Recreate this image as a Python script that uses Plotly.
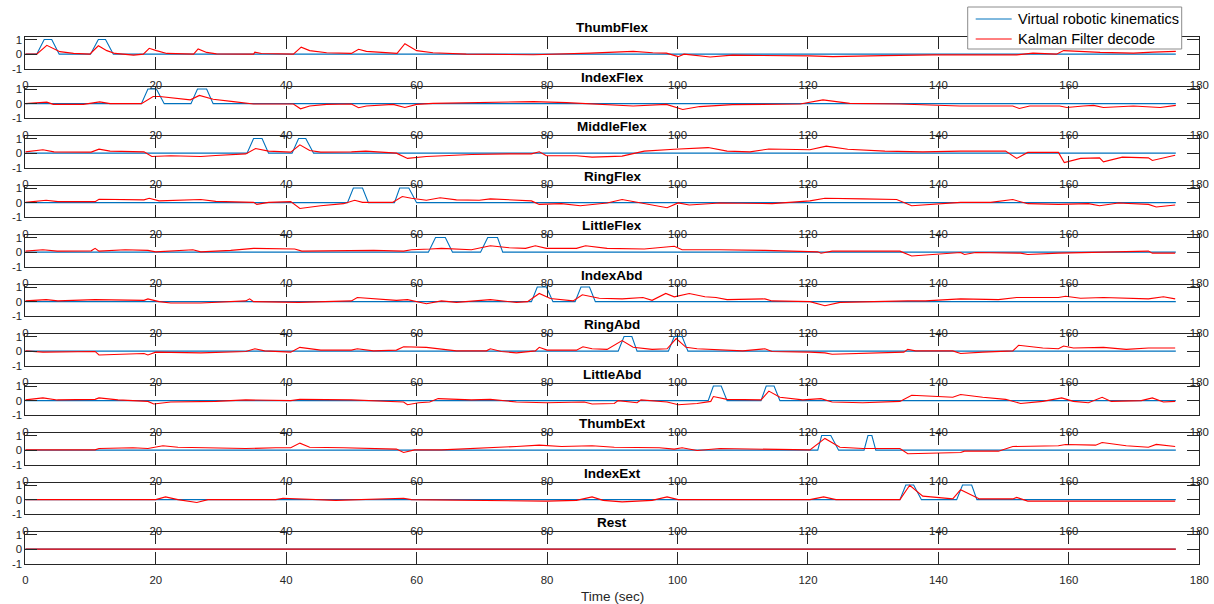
import plotly.graph_objects as go

FONT = "Liberation Sans, Arial, Helvetica, sans-serif"
AX = "#262626"
BLUE = "#0072BD"
RED = "#FF0000"

CHANNELS = ["ThumbFlex", "IndexFlex", "MiddleFlex", "RingFlex", "LittleFlex",
            "IndexAbd", "RingAbd", "LittleAbd", "ThumbExt", "IndexExt", "Rest"]
SERIES_NAMES = ["Virtual robotic kinematics", "Kalman Filter decode"]
T_END = 176.4
X_TICKS = [0, 20, 40, 60, 80, 100, 120, 140, 160, 180]
Y_TICKS = [-1, 0, 1]
Y_TICKTEXT = ["-1", "0", "1"]

# Virtual robotic kinematics: bumps (rise start, top start, top end, fall end), height 1
KIN_BUMPS = {
    "ThumbFlex": [(1.75, 2.9, 4.05, 5.2), (10.0, 11.2, 12.3, 13.5)],
    "IndexFlex": [(17.8, 18.8, 20.1, 21.3), (25.4, 26.4, 27.8, 28.8)],
    "MiddleFlex": [(34.0, 35.0, 36.3, 37.3), (40.9, 41.9, 43.0, 44.2)],
    "RingFlex": [(49.4, 50.3, 51.7, 52.6), (56.6, 57.4, 58.8, 60.0)],
    "LittleFlex": [(61.8, 62.9, 64.4, 65.5), (69.8, 70.9, 72.4, 73.2)],
    "IndexAbd": [(77.6, 78.5, 79.9, 80.9), (84.3, 85.2, 86.5, 87.4)],
    "RingAbd": [(90.9, 91.8, 93.0, 93.8), (98.6, 99.5, 100.7, 101.6)],
    "LittleAbd": [(104.7, 105.5, 106.7, 107.6), (112.8, 113.6, 114.8, 115.7)],
    "ThumbExt": [(121.5, 122.1, 123.5, 124.7), (128.6, 129.2, 129.8, 130.4)],
    "IndexExt": [(134.1, 135.0, 136.2, 137.4), (142.8, 143.7, 145.1, 145.9)],
    "Rest": [],
}

# Kalman Filter decode: (time, value) pairs
THUMBFLEX_DEC = [(0, 0), (1.75, 0), (3.3, 0.6), (4.3, 0.36), (5.3, 0.17), (7.4, 0.05), (9.9, 0), (11.2, 0.57),
                 (12.5, 0.24), (13.75, 0.05), (16.6, -0.07), (18.1, 0), (19.0, 0.4), (20.1, 0.24), (21.7, 0.05),
                 (25.8, 0), (26.5, 0.36), (27.8, 0.12), (29.3, 0.02), (35, 0), (35.2, 0.14), (36.2, 0.04),
                 (41.1, 0), (42.3, 0.48), (43.6, 0.24), (46.2, 0.1), (50, 0.05), (51.1, 0.33), (52.3, 0.19),
                 (57, 0.05), (58.2, 0.71), (60, 0.24), (62.5, 0.1), (67.6, 0.0), (77.9, -0.04), (86.6, 0.07),
                 (93.2, 0.19), (96.2, 0.1), (98.3, 0.07), (100.1, -0.17), (101, 0), (105, -0.19), (108.4, -0.07),
                 (120.3, -0.12), (123.8, -0.17), (131.5, -0.1), (139.2, -0.05), (152, -0.05), (154.5, 0.07),
                 (158.1, 0), (159.2, 0.24), (164.8, 0.12), (169.9, 0.07), (172.9, 0.14), (176.4, 0.19)]
INDEXFLEX_DEC = [(0, 0), (2.5, 0.1), (3.3, 0.1), (4.3, -0.05), (8.9, -0.05), (11.4, 0.12), (13, 0), (17.8, 0),
                 (19.6, 0.49), (20.6, 0.49), (25.3, 0.26), (26.7, 0.56), (28.8, 0.3), (31.9, 0.14), (35, -0.02),
                 (41.1, -0.02), (42.2, -0.35), (43.6, -0.16), (46.2, -0.05), (50, -0.02), (51.1, -0.28),
                 (52.3, -0.16), (56.4, -0.05), (58.2, -0.26), (60, -0.05), (62.5, 0.02), (77.9, 0.14), (83, 0.07),
                 (93.2, -0.16), (98.3, -0.05), (100.8, -0.4), (103.4, -0.2), (108.4, -0.07), (118.8, -0.02),
                 (122.3, 0.26), (126.4, 0.02), (134, -0.02), (143.3, -0.16), (151.4, -0.16), (152.4, -0.33),
                 (154, -0.16), (158.6, -0.16), (159.7, -0.26), (162.2, -0.16), (163.8, -0.12), (165.3, -0.26),
                 (169.9, -0.16), (174, -0.26), (176.4, -0.12)]
MIDDLEFLEX_DEC = [(0, 0.09), (2.7, 0.23), (4.4, 0.09), (10.1, 0.07), (11.3, 0.27), (13, 0.14), (18.2, 0.09),
                  (19.4, -0.23), (22.3, -0.18), (26.9, -0.23), (29.2, -0.16), (33.8, -0.05), (35.3, 0.32),
                  (37.3, 0.14), (40.7, 0.07), (42.1, 0.57), (43.6, 0.18), (45.3, 0.07), (50, 0.09), (52.2, 0.14),
                  (56.9, 0), (58.6, -0.36), (61.5, -0.23), (68.4, -0.09), (74.2, -0.05), (77.6, -0.05),
                  (78.8, 0.09), (79.9, -0.18), (84.5, -0.18), (86.9, -0.27), (91.5, -0.2), (94.9, 0.14),
                  (99.5, 0.27), (104.7, 0.38), (107.6, 0.14), (111.1, 0.09), (114, 0.28), (120.3, 0.23),
                  (122.8, 0.48), (126.1, 0.27), (131.8, 0.14), (137.6, 0.09), (143.4, 0.14), (150.3, 0.14),
                  (152, -0.36), (153.7, 0.05), (158.4, 0.05), (159.3, -0.64), (161.8, -0.36), (164.7, -0.32),
                  (165.3, -0.59), (168.2, -0.27), (172.2, -0.32), (172.8, -0.5), (176.3, -0.14)]
RINGFLEX_DEC = [(0, 0.02), (3.2, 0.16), (5, 0.07), (10.7, 0.07), (11.3, 0.23), (18.2, 0.19), (19, 0.3),
                (20.5, 0.12), (26.9, 0.21), (29.2, 0.09), (35, 0.02), (35.5, -0.12), (37.3, 0.02), (40.7, 0.07),
                (42.1, -0.4), (45.3, -0.21), (48.8, -0.07), (50.5, 0.16), (51.7, 0.02), (56.3, 0.02),
                (57.8, 0.42), (59.2, 0.3), (61.5, 0.16), (63.6, 0.33), (66.1, 0.19), (69.6, 0.16), (71.3, 0.26),
                (75.3, 0.16), (77.6, 0.12), (78.8, -0.12), (82.2, -0.07), (85.1, -0.21), (89.2, -0.02),
                (91.5, 0.21), (94.9, -0.07), (98.4, -0.35), (100.1, -0.02), (101.8, -0.16), (106.5, -0.02),
                (114.5, -0.07), (120.3, 0.12), (122.6, 0.3), (128.4, 0.26), (133.6, 0.21), (135.9, -0.21),
                (139.9, -0.07), (143.4, 0.02), (148, 0.02), (151.4, 0.21), (153.7, -0.07), (158.4, -0.12),
                (163, -0.07), (164.7, -0.21), (167.6, -0.02), (172.2, -0.12), (173.4, -0.3), (176.3, -0.16)]
LITTLEFLEX_DEC = [(0, 0.07), (2.7, 0.16), (4.9, 0.07), (10.1, 0.09), (10.7, 0.26), (11.3, 0.07), (15.3, 0.16),
                  (18.8, 0.12), (20, 0.02), (25.7, 0.16), (26.9, 0.02), (31.5, 0.12), (35, 0.26), (41.3, 0.21),
                  (42.4, 0.07), (50, 0.09), (53.4, 0.12), (58, 0.07), (59.2, 0.16), (62.1, 0.21), (63.8, 0.26),
                  (68.4, 0.16), (71.3, 0.44), (74.2, 0.3), (76.7, 0.26), (78.2, 0.44), (79.9, 0.26), (84.5, 0.26),
                  (85.9, 0.44), (89.2, 0.26), (94.9, 0.21), (99.5, 0.4), (100.7, 0.16), (106.5, 0.16),
                  (113.4, 0.12), (121.5, 0.02), (122, -0.07), (123.7, 0.07), (134.1, 0.07), (135.9, -0.26),
                  (139.9, -0.12), (143.4, -0.02), (144, -0.16), (145.7, -0.02), (152.6, -0.07), (153.7, -0.16),
                  (158.4, -0.07), (165.3, 0.02), (172.2, 0.07), (172.8, -0.07), (176.3, -0.07)]
INDEXABD_DEC = [(0, 0.05), (3.2, 0.14), (5, 0.05), (10.7, 0.14), (18.2, 0.09), (18.8, 0.19), (20.5, 0),
                (22.3, -0.09), (26.9, -0.09), (33.8, 0.05), (34.4, 0.19), (35, 0), (41.9, -0.05), (50, 0.05),
                (50.9, 0.28), (56.9, 0.09), (58.6, 0.14), (61.5, -0.14), (63.8, 0.05), (66.1, -0.05),
                (71.3, 0.14), (75.3, -0.05), (77, 0), (78.8, 0.56), (80.5, 0.21), (84, 0.05), (85.4, 0.47),
                (88, 0.23), (91.5, 0.19), (94.7, 0.28), (96.1, 0.09), (98.2, 0.56), (99.5, 0.33), (101.8, 0.56),
                (104.2, 0.33), (105.9, 0.28), (107.6, 0.14), (113.4, 0.19), (114.5, 0.05), (120.3, 0),
                (122.6, -0.28), (124.9, -0.05), (135.3, 0.05), (138, 0.05), (143.4, 0.19), (149.2, 0.14),
                (152, 0.28), (158.4, 0.28), (159.5, 0.37), (161.8, 0.23), (165.3, 0.28), (169.9, 0.23),
                (172.2, 0.19), (174.5, 0.33), (176.3, 0.19)]
RINGABD_DEC = [(0, 0.02), (2.7, -0.07), (10.7, -0.02), (11.3, -0.26), (18.2, -0.16), (18.8, -0.26), (20, -0.07),
               (26.9, -0.12), (33.8, -0.02), (35.2, 0.16), (36.7, 0.02), (40.7, -0.07), (42.1, 0.26), (45.3, 0.07),
               (50, 0.07), (50.9, 0.16), (53.4, 0.02), (56.9, 0.07), (58, 0.3), (61.5, 0.26), (66.1, 0.02),
               (70.7, 0.02), (71.3, 0.16), (73, -0.02), (75.3, -0.12), (78.2, 0.02), (78.8, 0.26), (80, 0.07),
               (84.5, 0.07), (85.5, 0.3), (86.9, 0.16), (89.2, 0.12), (91.5, 0.72), (93.2, 0.26), (96.1, 0.12),
               (98.4, 0.16), (99.8, 0.86), (101.3, 0.26), (103, 0.16), (106.5, 0.07), (110, 0.02), (113.4, 0.16),
               (114.5, -0.02), (120.3, -0.07), (122.6, -0.12), (123.7, -0.21), (129.5, -0.16), (134.7, -0.07),
               (135.3, 0.12), (136.5, 0.02), (142.2, 0.02), (143.4, -0.16), (146.8, -0.07), (151.4, 0.02),
               (152.3, 0.4), (156, 0.21), (158.4, 0.16), (159.2, 0.35), (160.7, 0.21), (164.7, 0.21),
               (165.3, 0.26), (168.8, 0.12), (172.2, 0.21), (176.3, 0.21)]
LITTLEABD_DEC = [(0, 0.05), (2.7, 0.19), (4.9, 0.05), (10.7, 0.09), (11.3, 0.19), (14.2, 0.05), (18.8, -0.05),
                 (19.7, -0.23), (22.3, -0.09), (29.2, -0.05), (33.8, 0.05), (40.7, 0), (42.1, 0.09), (50, 0.05),
                 (58, -0.09), (58.6, -0.28), (60.3, -0.14), (62, -0.09), (63.3, 0.14), (68.4, 0.05), (71.3, 0.09),
                 (75.3, -0.09), (79.9, -0.14), (85.7, -0.09), (86.9, -0.23), (90.3, -0.19), (90.9, 0),
                 (93.8, -0.14), (94.4, 0.05), (98.4, -0.09), (100.1, -0.28), (103, -0.19), (105.1, -0.05),
                 (105.5, 0.28), (107.6, 0.09), (112.8, 0.05), (114, 0.65), (115.7, 0.23), (119.2, 0.05),
                 (122, 0.14), (123.7, -0.09), (128.4, -0.14), (134.1, -0.05), (135.9, 0.37), (139.9, 0.28),
                 (142.2, 0.23), (143.4, 0.42), (146.8, 0.23), (150.3, 0.09), (152.6, -0.19), (156, -0.05),
                 (158.9, 0.19), (160.7, -0.05), (163, -0.14), (165.1, 0.23), (166.5, -0.05), (171.1, 0),
                 (172.8, 0.19), (174.5, -0.09), (176.3, -0.05)]
THUMBEXT_DEC = [(0, 0.02), (10.7, 0.02), (11.3, 0.11), (16.5, 0.16), (18.8, 0.11), (21.1, 0.3), (23.4, 0.2),
                (29.2, 0.16), (33.8, 0.11), (38.4, 0.16), (40.7, 0.16), (42.1, 0.48), (43.6, 0.2), (48.8, 0.16),
                (56.9, 0.07), (58, -0.16), (59.7, 0.02), (63.8, 0.02), (68.4, 0.11), (73, 0.16), (75.3, 0.25),
                (78.8, 0.34), (82.2, 0.25), (86.9, 0.3), (90.3, 0.2), (97.2, 0.16), (99.5, 0.07), (100.7, 0.16),
                (103, -0.02), (106.5, 0.11), (114.5, 0.07), (120.3, 0.02), (122.6, 0.8), (124.9, 0.2),
                (128.4, 0.11), (134.1, 0.11), (135.3, -0.25), (139.9, -0.2), (143.4, -0.16), (144, -0.07),
                (149.2, -0.07), (151.4, 0.25), (158.4, 0.3), (159.5, 0.39), (164.1, 0.34), (165.1, 0.52),
                (168.8, 0.3), (172.2, 0.2), (173.4, 0.39), (176.3, 0.25)]
INDEXEXT_DEC = [(0, 0), (20, 0), (21.5, 0.19), (23.4, 0), (26.3, -0.19), (28, 0), (38.4, 0), (39.5, 0.1),
                (47.6, -0.05), (58, 0.1), (59.2, 0), (79.9, -0.1), (84.5, -0.05), (86.9, 0.19), (88.6, -0.05),
                (91.5, -0.15), (96.1, -0.05), (98.4, 0.19), (100.1, 0), (120.3, 0), (122.4, 0.19), (124.3, 0),
                (134.1, 0), (135.6, 0.98), (137.6, 0.24), (142.2, 0.05), (143.4, 0.68), (146.3, 0.05),
                (151.4, 0.05), (152, 0.15), (153.7, -0.1), (160.7, -0.1), (166.4, -0.15), (172.2, -0.1),
                (176.3, -0.1)]
REST_DEC = [(0, 0), (176.4, 0)]

DECODE = {
    "ThumbFlex": THUMBFLEX_DEC, "IndexFlex": INDEXFLEX_DEC, "MiddleFlex": MIDDLEFLEX_DEC,
    "RingFlex": RINGFLEX_DEC, "LittleFlex": LITTLEFLEX_DEC, "IndexAbd": INDEXABD_DEC,
    "RingAbd": RINGABD_DEC, "LittleAbd": LITTLEABD_DEC, "ThumbExt": THUMBEXT_DEC,
    "IndexExt": INDEXEXT_DEC, "Rest": REST_DEC,
}

# ---------------- layout geometry (pixels of the 1214x604 page) ----------------
W, H = 1214, 604
X_LEFT, X_RIGHT = 25.3, 1199.3
TOP0, PITCH, AX_H = 37.3, 49.5, 31.5


def px(x):
    return x / W


def py(y):
    return 1 - y / H


fig = go.Figure()
layout = dict(
    width=W, height=H, margin=dict(l=0, r=0, t=0, b=0, pad=0, autoexpand=False),
    paper_bgcolor="white", plot_bgcolor="white",
    font=dict(family=FONT, color=AX),
    showlegend=False,
)
annotations = []
shapes = []

for i, ch in enumerate(CHANNELS):
    k = i + 1
    top = TOP0 + PITCH * i
    bot = top + AX_H
    dom_y = [py(bot), py(top)]
    xa = "x" if k == 1 else f"x{k}"
    ya = "y" if k == 1 else f"y{k}"

    kt, kv = [0.0], [0.0]
    for (r, a, b, f) in KIN_BUMPS[ch]:
        kt += [r, a, b, f]
        kv += [0, 1, 1, 0]
    kt.append(T_END)
    kv.append(0.0)
    fig.add_trace(go.Scatter(x=kt, y=kv, mode="lines", line=dict(color=BLUE, width=1.1),
                             name=SERIES_NAMES[0], xaxis=xa, yaxis=ya, hoverinfo="skip"))
    dt = [p[0] for p in DECODE[ch]]
    dv = [p[1] for p in DECODE[ch]]
    fig.add_trace(go.Scatter(x=dt, y=dv, mode="lines", line=dict(color=RED, width=1.1),
                             name=SERIES_NAMES[1], xaxis=xa, yaxis=ya, hoverinfo="skip"))

    xkey = "xaxis" if k == 1 else f"xaxis{k}"
    ykey = "yaxis" if k == 1 else f"yaxis{k}"
    layout[xkey] = dict(domain=[px(X_LEFT), px(X_RIGHT)], range=[0, 180], tickvals=X_TICKS,
                        ticks="inside", ticklen=12, tickwidth=1, tickcolor=AX,
                        showline=True, linecolor=AX, linewidth=1, mirror="ticks",
                        showgrid=False, zeroline=False, anchor=ya, automargin=False,
                        ticklabelstandoff=6,
                        tickfont=dict(family=FONT, size=11.4, color=AX))
    layout[ykey] = dict(domain=dom_y, range=[-1, 1.15], tickvals=Y_TICKS, ticktext=Y_TICKTEXT,
                        ticks="inside", ticklen=12, tickwidth=1, tickcolor=AX,
                        showline=True, linecolor=AX, linewidth=1, mirror="ticks",
                        showgrid=False, zeroline=False, anchor=xa, automargin=False,
                        tickfont=dict(family=FONT, size=11.4, color=AX))
    annotations.append(dict(text=f"<b>{ch}</b>", x=px(612.3), y=dom_y[1], xref="paper", yref="paper",
                            xanchor="center", yanchor="bottom", yshift=0, showarrow=False,
                            font=dict(family=FONT, size=13.5, color="#000000")))

annotations.append(dict(text="Time (sec)", x=px(612.3), y=py(596.7), xref="paper", yref="paper",
                        xanchor="center", yanchor="middle", showarrow=False,
                        font=dict(family=FONT, size=13.5, color=AX)))

# legend box (MATLAB style) drawn on top of the first axes
LEG_L, LEG_R, LEG_T, LEG_B = 967.7, 1181.7, 7.0, 49.0
shapes.append(dict(type="rect", xref="paper", yref="paper", layer="above",
                   x0=px(LEG_L), x1=px(LEG_R), y0=py(LEG_B), y1=py(LEG_T),
                   fillcolor="white", line=dict(color="#8c8c8c", width=1)))
for j, (name, col) in enumerate(zip(SERIES_NAMES, [BLUE, RED])):
    yc = 19.0 + 20.0 * j
    shapes.append(dict(type="line", xref="paper", yref="paper", layer="above",
                       x0=px(975.7), x1=px(1011.7), y0=py(yc), y1=py(yc),
                       line=dict(color=col, width=1)))
    annotations.append(dict(text=name, x=px(1015.7), y=py(yc), xref="paper", yref="paper",
                            xanchor="left", yanchor="middle", showarrow=False,
                            font=dict(family=FONT, size=14.5, color="#000000")))

layout["annotations"] = annotations
layout["shapes"] = shapes
fig.update_layout(**layout)
fig.write_html("out.html")
